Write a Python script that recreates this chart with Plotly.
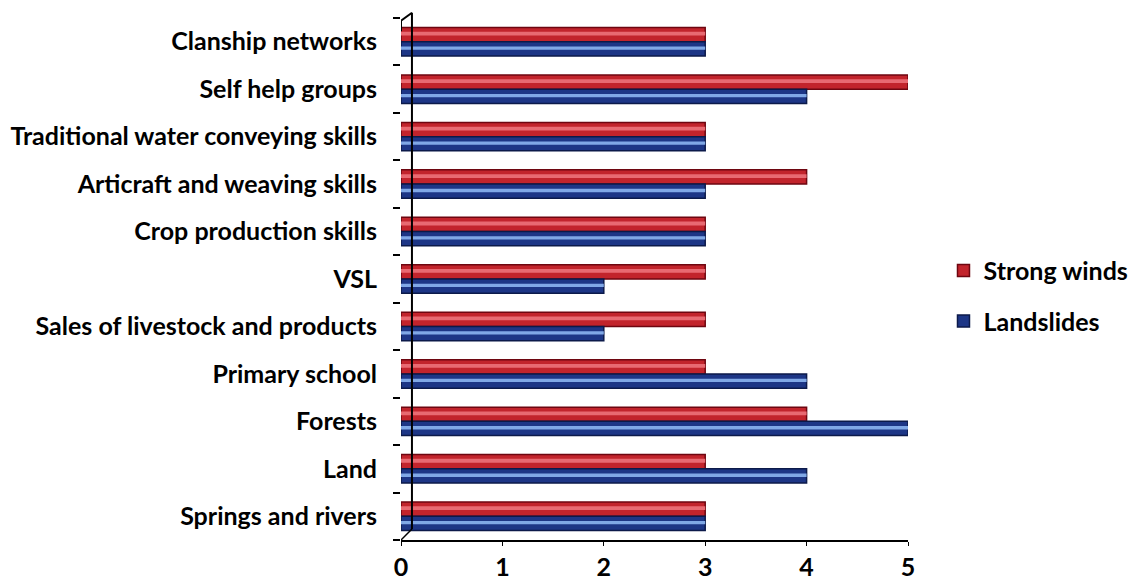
import plotly.graph_objects as go

categories = [
    "Springs and rivers", "Land", "Forests", "Primary school",
    "Sales of livestock and products", "VSL", "Crop production skills",
    "Articraft and weaving skills", "Traditional water conveying skills",
    "Self help groups", "Clanship networks",
]
strong_winds = [3, 3, 4, 3, 3, 3, 3, 4, 3, 5, 3]
landslides = [3, 4, 5, 4, 2, 2, 3, 3, 3, 4, 3]
x_ticks = [0, 1, 2, 3, 4, 5]

FONT = "Lato"
FSIZE = 25
BAR_W = 0.3
WALL = 0.108  # depth offset of the back wall, in x units

fig = go.Figure()

# main bodies of the cylinders
fig.add_trace(go.Bar(
    y=categories, x=strong_winds, orientation="h", name="Strong winds",
    legendgroup="a", width=BAR_W, offset=0.0,
    marker=dict(color="#c2242c", line=dict(color="#6e0610", width=1.5)),
))
fig.add_trace(go.Bar(
    y=categories, x=landslides, orientation="h", name="Landslides",
    legendgroup="b", width=BAR_W, offset=-BAR_W,
    marker=dict(color="#1d3686", line=dict(color="#0c1a4a", width=1.5)),
))
# light sheen stripes for a rounded look
fig.add_trace(go.Bar(
    y=categories, x=strong_winds, orientation="h", showlegend=False,
    width=0.08, offset=0.13, hoverinfo="skip",
    marker=dict(color="#e86a72", line=dict(width=0)),
))
fig.add_trace(go.Bar(
    y=categories, x=landslides, orientation="h", showlegend=False,
    width=0.07, offset=-0.17, hoverinfo="skip",
    marker=dict(color="#80a8e6", line=dict(width=0)),
))

# back wall edge with its perspective corners
line = dict(color="black", width=2)
shapes = [
    dict(type="line", xref="x", yref="paper", x0=WALL, x1=WALL,
         y0=0.021, y1=1.01, line=line),
    dict(type="line", xref="x", yref="paper", x0=0, x1=WALL,
         y0=0.995, y1=1.01, line=line),
    dict(type="line", xref="x", yref="paper", x0=0, x1=0,
         y0=0.975, y1=0.995, line=line),
    dict(type="line", xref="x", yref="paper", x0=0, x1=WALL,
         y0=0.0, y1=0.021, line=dict(color="black", width=1.5)),
]

fig.update_layout(
    barmode="overlay",
    width=1141, height=586,
    margin=dict(l=401, r=233, t=18, b=46, autoexpand=False),
    paper_bgcolor="white", plot_bgcolor="white",
    font=dict(family=FONT, size=FSIZE, color="black"),
    showlegend=True,
    shapes=shapes,
    legend=dict(
        x=1.07, y=0.468, xanchor="left", yanchor="middle",
        traceorder="grouped", tracegroupgap=15,
        font=dict(family=FONT, size=FSIZE, color="black", weight="bold"),
        itemwidth=30, bgcolor="rgba(0,0,0,0)",
    ),
    xaxis=dict(
        range=[0, 5], tickvals=x_ticks, ticktext=[str(v) for v in x_ticks],
        showgrid=False, zeroline=False, showline=True, linecolor="black",
        linewidth=2, ticks="outside", ticklen=4, tickcolor="black",
        automargin=False,
        tickfont=dict(family=FONT, size=FSIZE, weight="bold"),
    ),
    yaxis=dict(
        categoryorder="array", categoryarray=categories,
        showgrid=False, zeroline=False, showline=False, automargin=False,
        ticks="outside", tickson="boundaries", ticklen=7, tickwidth=2,
        tickcolor="black", ticklabelstandoff=23,
        tickfont=dict(family=FONT, size=FSIZE, weight="bold"),
    ),
)

fig.write_html("out.html")
